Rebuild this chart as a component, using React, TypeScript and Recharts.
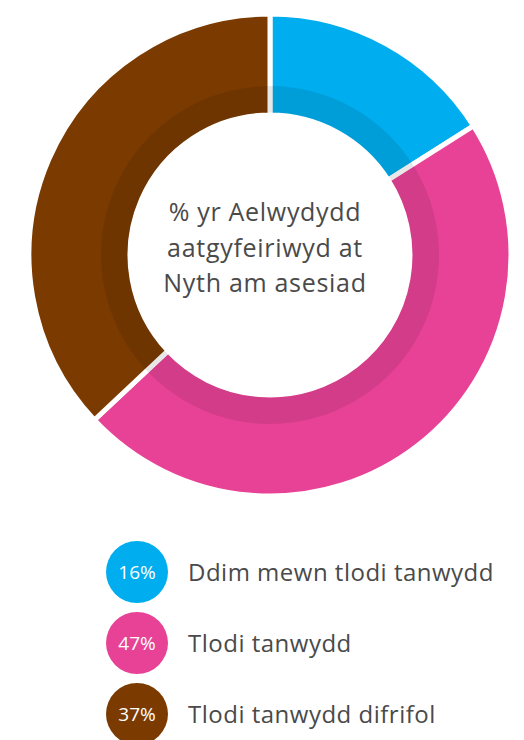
import { PieChart, Pie, Cell } from "recharts";

const categories = ["Ddim mewn tlodi tanwydd", "Tlodi tanwydd", "Tlodi tanwydd difrifol"];
const shares = [16, 47, 37];
const colors = ["#00AEEF", "#E84296", "#7B3B00"];
const centerLines = ["% yr Aelwydydd", "aatgyfeiriwyd at", "Nyth am asesiad"];

const data = categories.map((name, i) => ({ name, value: shares[i] }));
const ring = [{ name: "ring", value: 1 }];

const font = "'Open Sans', Lato, sans-serif";

function LegendBlock() {
    return (
        <div style={{ position: "absolute", left: 0, top: 536, width: 524 }}>
            {categories.map((name, i) => (
                <div key={name} style={{ display: "flex", alignItems: "center", height: 71 }}>
                    <div
                        style={{
                            width: 62,
                            height: 62,
                            borderRadius: 31,
                            background: colors[i],
                            color: "#fff",
                            display: "flex",
                            alignItems: "center",
                            justifyContent: "center",
                            fontSize: 19,
                            marginLeft: 106,
                        }}
                    >
                        {shares[i]}%
                    </div>
                    <span style={{ marginLeft: 20, fontSize: 24, color: "#4a4a4a", letterSpacing: 0.5 }}>{name}</span>
                </div>
            ))}
        </div>
    );
}

export default function App() {
    return (
        <div style={{ position: "absolute", left: 0, top: 0, width: 524, height: 740, background: "#fff", fontFamily: font }}>
            <PieChart width={524} height={500}>
                <Pie
                    data={data}
                    dataKey="value"
                    nameKey="name"
                    cx={265}
                    cy={250}
                    innerRadius={140}
                    outerRadius={241}
                    startAngle={90}
                    endAngle={-270}
                    stroke="#fff"
                    strokeWidth={5}
                    isAnimationActive={false}
                >
                    {data.map((d, i) => (
                        <Cell key={d.name} fill={colors[i]} />
                    ))}
                </Pie>
                <Pie
                    data={ring}
                    dataKey="value"
                    cx={265}
                    cy={250}
                    innerRadius={142.5}
                    outerRadius={169}
                    startAngle={90}
                    endAngle={-270}
                    fill="#000"
                    fillOpacity={0.09}
                    stroke="none"
                    isAnimationActive={false}
                />
                {centerLines.map((line, i) => (
                    <text
                        key={line}
                        x={265}
                        y={221 + i * 35.5}
                        textAnchor="middle"
                        fontSize={25}
                        fill="#4a4a4a"
                        fontFamily={font}
                        letterSpacing={0.7}
                    >
                        {line}
                    </text>
                ))}
            </PieChart>
            <LegendBlock />
        </div>
    );
}
